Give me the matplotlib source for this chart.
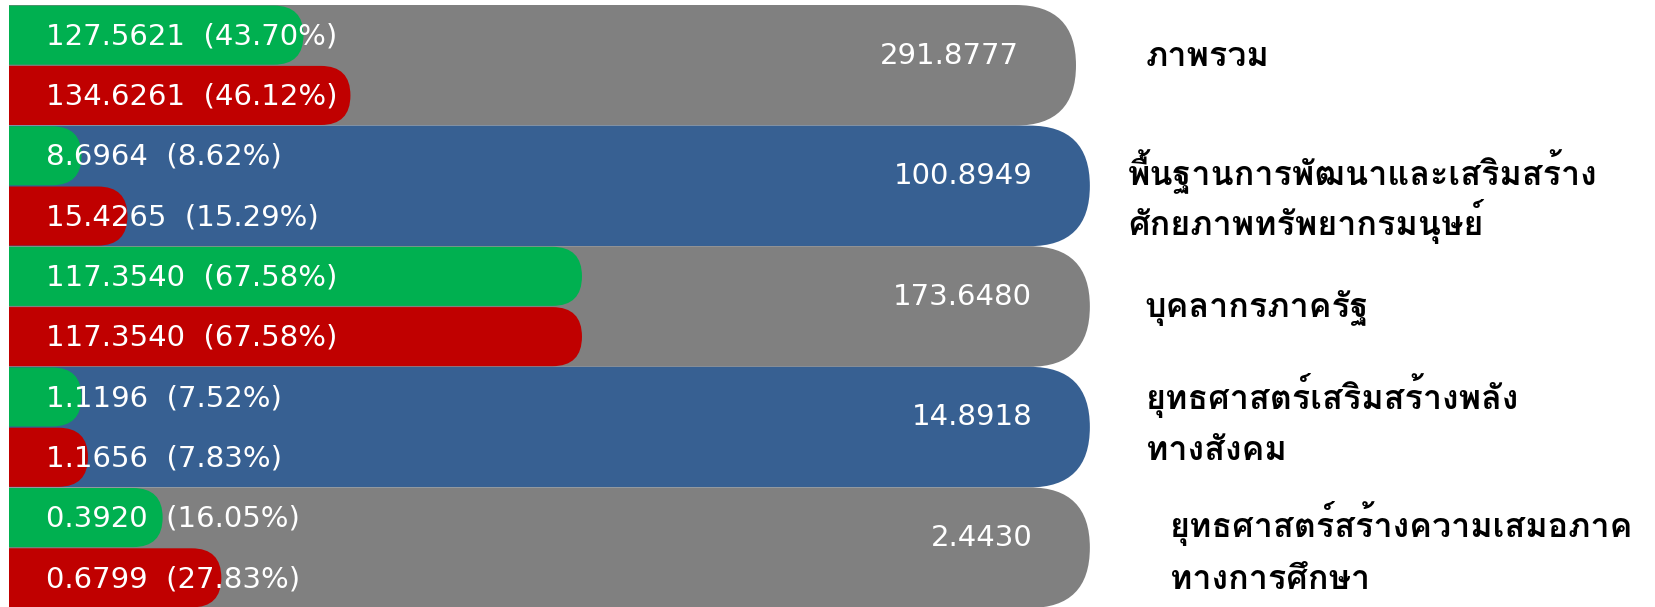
import matplotlib
matplotlib.use("Agg")
import matplotlib.pyplot as plt
from matplotlib import font_manager
from matplotlib.ft2font import FT2Font
from matplotlib.patches import FancyBboxPatch

categories = [
    ["ภาพรวม"],
    ["พื้นฐานการพัฒนาและเสริมสร้าง", "ศักยภาพทรัพยากรมนุษย์"],
    ["บุคลากรภาครัฐ"],
    ["ยุทธศาสตร์เสริมสร้างพลัง", "ทางสังคม"],
    ["ยุทธศาสตร์สร้างความเสมอภาค", "ทางการศึกษา"],
]
totals = [291.8777, 100.8949, 173.6480, 14.8918, 2.4430]
green_vals = [127.5621, 8.6964, 117.3540, 1.1196, 0.3920]
green_pct = [43.70, 8.62, 67.58, 7.52, 16.05]
red_vals = [134.6261, 15.4265, 117.3540, 1.1656, 0.6799]
red_pct = [46.12, 15.29, 67.58, 7.83, 27.83]

# bar lengths as drawn in the picture (first background bar = 100)
green_len = [27.6, 6.8, 53.7, 6.8, 14.4]
red_len = [32.0, 11.1, 53.7, 7.4, 19.9]
bg_len = [100, 101.3, 101.3, 101.3, 101.3]

GRAY, BLUE = "#808080", "#376092"
GREEN, RED = "#00B050", "#C00000"
bg_colors = [GRAY, BLUE, GRAY, BLUE, GRAY]


def find_thai_font():
    paths = [f.fname for f in font_manager.fontManager.ttflist]
    paths += font_manager.findSystemFonts()
    found = []
    for p in sorted(set(paths)):
        try:
            if 0x0E01 in FT2Font(p).get_charmap():
                found.append(p)
        except Exception:
            continue
    if not found:
        return None
    found.sort(key=lambda p: ("Bold" not in p, len(p)))
    return found[0]


thai_path = find_thai_font()
if thai_path:
    font_manager.fontManager.addfont(thai_path)
    thai_name = font_manager.FontProperties(fname=thai_path).get_name()
    label_family = [thai_name, "DejaVu Sans"]
else:
    label_family = ["DejaVu Sans"]

W, H = 1656, 607
LEFT = 9                    # white margin left of the bars, px
fig = plt.figure(figsize=(W / 100, H / 100), dpi=100)
ax = fig.add_axes([LEFT / W, 0, 1 - LEFT / W, 1])
ax.axis("off")

px_x = 1067 / 100          # pixels per x unit
px_y = 120.6               # pixels per row
y0 = -0.5 - 5 / px_y
ax.set_xlim(0, (W - LEFT) / px_x)
ax.set_ylim(y0 + H / px_y, y0)
aspect = px_x / px_y


def round_bars(bars, ext=12):
    # swap plain bars for bars with a round right end
    for b in bars:
        x, y = b.get_x(), b.get_y()
        w, h = b.get_width(), b.get_height()
        r = h / (2 * aspect)
        p = FancyBboxPatch((x - ext, y), w + ext, h,
                           boxstyle=f"round,pad=0,rounding_size={r}",
                           mutation_aspect=aspect, fc=b.get_facecolor(),
                           ec="none", lw=0, zorder=b.get_zorder())
        b.remove()
        ax.add_patch(p)


rows = list(range(len(categories)))
bg = ax.barh(rows, bg_len, height=1.0, color=bg_colors, zorder=1)
round_bars(bg)
gb = ax.barh([i - 0.25 for i in rows], green_len, height=0.49, color=GREEN, zorder=2)
round_bars(gb)
rb = ax.barh([i + 0.25 for i in rows], red_len, height=0.49, color=RED, zorder=2)
round_bars(rb)

num_kw = dict(color="white", fontsize=21, family="DejaVu Sans", va="center", zorder=3)
for i in rows:
    ax.text(3.5, i - 0.24, f"{green_vals[i]:.4f}  ({green_pct[i]:.2f}%)", **num_kw)
    ax.text(3.5, i + 0.26, f"{red_vals[i]:.4f}  ({red_pct[i]:.2f}%)", **num_kw)
    ax.text(bg_len[i] - 5.4, i - 0.08, f"{totals[i]:.4f}", ha="right", **num_kw)

# category labels: left edge and baselines in figure pixels
lab_x = [1146, 1128, 1144, 1146, 1170]
lab_base = [[66], [185, 235], [317], [409, 460], [537, 589]]
for i in rows:
    for line, base in zip(categories[i], lab_base[i]):
        ax.text((lab_x[i] - LEFT) / px_x, y0 + base / px_y, line,
                family=label_family, fontsize=24.5, fontweight="bold",
                color="black", va="baseline", ha="left")

fig.savefig("out.png", dpi=100)
